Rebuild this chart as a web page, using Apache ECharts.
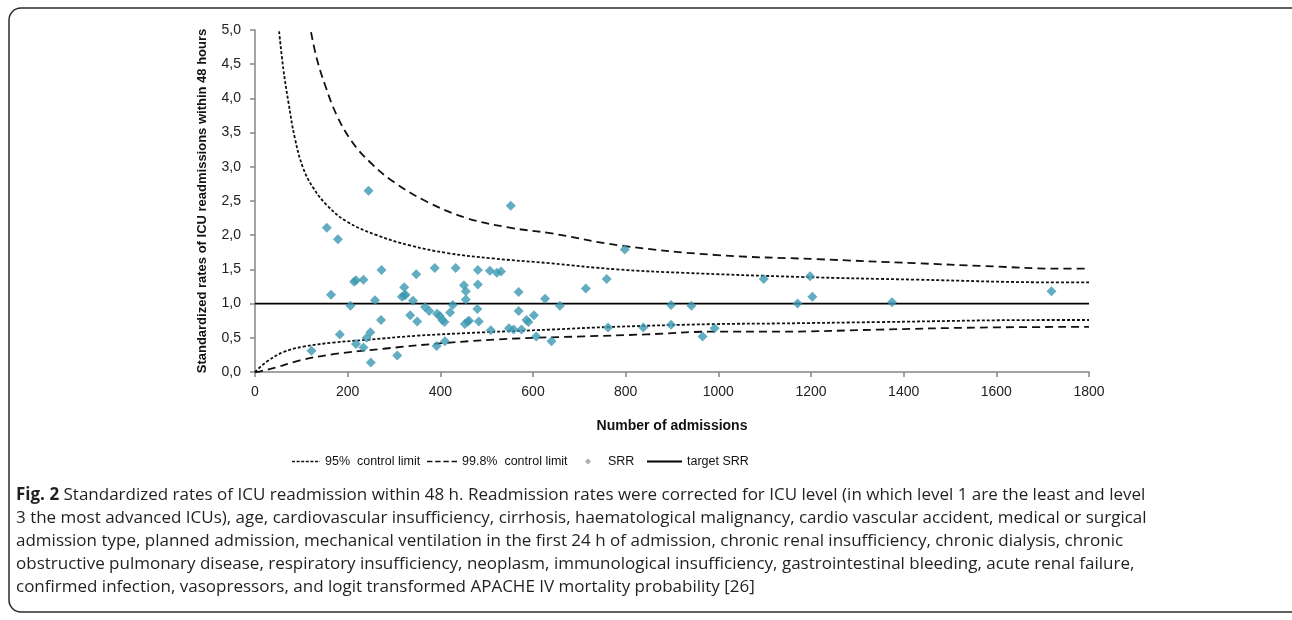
<!DOCTYPE html>
<html>
<head>
<meta charset="utf-8">
<script src="https://cdn.jsdelivr.net/npm/echarts@6/dist/echarts.min.js"></script>
<style>
html,body{margin:0;padding:0;background:#fff;}
#chart{width:1292px;height:620px;}
</style>
</head>
<body>
<div id="chart"></div>
<script>
// SRR points (number of admissions, standardized readmission ratio)
var srrX = [122,155,164,179,183,206,214,218,218,234,234,241,245,249,250,259,272,273,307,317,322,322,325,335,341,348,350,367,376,388,392,393,399,404,409,410,421,427,433,451,455,455,453,459,462,481,481,480,483,507,509,522,531,552,548,558,569,569,575,586,590,602,607,626,640,658,714,759,762,798,838,898,898,942,966,992,1098,1171,1198,1203,1375,1719];
var srrY = [0.31,2.11,1.13,1.94,0.55,0.97,1.32,1.34,0.41,1.35,0.36,0.50,2.65,0.58,0.14,1.05,0.76,1.49,0.24,1.10,1.24,1.12,1.13,0.83,1.04,1.43,0.74,0.95,0.89,1.52,0.38,0.85,0.82,0.76,0.73,0.45,0.87,0.98,1.52,1.27,1.18,1.06,0.70,0.74,0.75,1.49,1.28,0.92,0.74,1.48,0.61,1.45,1.47,2.43,0.64,0.62,1.17,0.89,0.62,0.76,0.73,0.83,0.52,1.07,0.45,0.97,1.22,1.36,0.65,1.79,0.65,0.98,0.69,0.97,0.52,0.64,1.36,1.00,1.40,1.10,1.02,1.18];

// control limits
var up95X = [52,61,72,86,104,126,155,198,263,335,414,514,637,781,925,1176,1428,1741,1800];
var up95Y = [4.98,4.44,3.95,3.42,2.98,2.69,2.44,2.20,2.00,1.85,1.74,1.66,1.59,1.50,1.45,1.39,1.35,1.31,1.31];
var lo95X = [0,25,61,104,169,241,349,493,637,773,989,1133,1349,1709,1800];
var lo95Y = [0,0.15,0.29,0.37,0.43,0.47,0.53,0.58,0.62,0.66,0.70,0.71,0.73,0.76,0.76];
var up998X = [121,133,151,176,209,248,299,371,457,550,637,788,997,1212,1428,1572,1741,1800];
var up998Y = [4.97,4.59,4.20,3.76,3.37,3.07,2.78,2.49,2.25,2.11,2.03,1.85,1.71,1.65,1.59,1.55,1.51,1.51];
var lo998X = [0,11,47,97,169,277,421,565,709,845,989,1133,1349,1565,1800];
var lo998Y = [0,0.01,0.07,0.17,0.26,0.34,0.43,0.49,0.52,0.55,0.59,0.59,0.62,0.65,0.66];
var targetX = [0,1800];
var targetY = [1,1];

var captionLines = [
  "{b|Fig. 2} Standardized rates of ICU readmission within 48 h. Readmission rates were corrected for ICU level (in which level 1 are the least and level",
  "3 the most advanced ICUs), age, cardiovascular insufficiency, cirrhosis, haematological malignancy, cardio vascular accident, medical or surgical",
  "admission type, planned admission, mechanical ventilation in the first 24 h of admission, chronic renal insufficiency, chronic dialysis, chronic",
  "obstructive pulmonary disease, respiratory insufficiency, neoplasm, immunological insufficiency, gastrointestinal bleeding, acute renal failure,",
  "confirmed infection, vasopressors, and logit transformed APACHE IV mortality probability [26]"
];

function zip(xs, ys){ return xs.map(function(x,i){ return [x, ys[i]]; }); }
function dashIcon(dash, gap, total){
  var p = 'path://', x = 0;
  while (x < total) { var w = Math.min(dash, total - x); p += 'M' + x + ',0h' + w + 'v1.6h-' + w + 'z'; x += dash + gap; }
  return p;
}

var chart = echarts.init(document.getElementById('chart'), null, {renderer:'canvas'});
var font = 'Liberation Sans, Arial, sans-serif';
var lineBase = {type:'line', symbol:'none', smooth:0.4, silent:true, z:3, itemStyle:{color:'#111'}};

var graphics = [{
  type:'rect', silent:true, z:0,
  shape:{x:9, y:8, width:1300, height:604, r:12},
  style:{fill:'none', stroke:'#2b2b2b', lineWidth:1.5}
}];
captionLines.forEach(function(t, i){
  graphics.push({
    type:'text', silent:true, left:16, top:487 + i*23,
    style:{
      text:t, fill:'#231f20', font:'17px "Open Sans", sans-serif',
      rich:{b:{fontWeight:'bold', fontFamily:'Open Sans', fontSize:17, fill:'#231f20'}}
    }
  });
});

var legendCommon = {top:450, itemHeight:2, selectedMode:false,
  textStyle:{fontFamily:font, fontSize:12.5, color:'#111'}};

chart.setOption({
  animation:false,
  backgroundColor:'#fff',
  grid:{left:255, right:203, top:30, bottom:248, containLabel:false},
  xAxis:{
    type:'value', min:0, max:1800, interval:200,
    name:'Number of admissions', nameLocation:'middle', nameGap:47,
    nameTextStyle:{fontFamily:font, fontSize:14, fontWeight:'bold', color:'#111'},
    axisLine:{show:true, onZero:false, lineStyle:{color:'#868686', width:1.5}},
    axisTick:{show:true, length:5, lineStyle:{color:'#868686', width:1.5}},
    axisLabel:{fontFamily:font, fontSize:14, color:'#222', margin:13,
      formatter:function(v){ return String(v); }},
    splitLine:{show:false}
  },
  yAxis:{
    type:'value', min:0, max:5, interval:0.5,
    name:'Standardized rates of ICU readmissions within 48 hours', nameLocation:'middle', nameGap:46,
    nameTextStyle:{fontFamily:font, fontSize:13, fontWeight:'bold', color:'#111'},
    axisLine:{show:true, lineStyle:{color:'#868686', width:1.5}},
    axisTick:{show:true, length:5, lineStyle:{color:'#868686', width:1.5}},
    axisLabel:{fontFamily:font, fontSize:14, color:'#222', margin:14,
      formatter:function(v){ return v.toFixed(1).replace('.', ','); }},
    splitLine:{show:false}
  },
  legend:[
    Object.assign({}, legendCommon, {left:287, itemWidth:28, data:[{name:'95%  control limit', icon:dashIcon(3,1.6,28)}]}),
    Object.assign({}, legendCommon, {left:422, itemWidth:30, data:[{name:'99.8%  control limit', icon:dashIcon(5,2.6,30)}]}),
    Object.assign({}, legendCommon, {left:580, itemWidth:6, itemHeight:6,
      data:[{name:'SRR', icon:'diamond', itemStyle:{color:'#9a9a9a'}}],
      textStyle:{fontFamily:font, fontSize:12.5, color:'#111', padding:[0,0,0,12]}}),
    Object.assign({}, legendCommon, {left:642, itemWidth:35, data:[{name:'target SRR', icon:'rect'}]})
  ],
  graphic:graphics,
  series:[
    Object.assign({}, lineBase, {name:'95%  control limit', data:zip(up95X, up95Y), lineStyle:{color:'#111', width:1.8, type:[3,2]}}),
    Object.assign({}, lineBase, {name:'95%  control limit', data:zip(lo95X, lo95Y), lineStyle:{color:'#111', width:1.8, type:[3,2]}}),
    Object.assign({}, lineBase, {name:'99.8%  control limit', data:zip(up998X, up998Y), lineStyle:{color:'#111', width:1.8, type:[8,5]}}),
    Object.assign({}, lineBase, {name:'99.8%  control limit', data:zip(lo998X, lo998Y), lineStyle:{color:'#111', width:1.8, type:[8,5]}}),
    {type:'line', name:'target SRR', symbol:'none', silent:true, z:2, itemStyle:{color:'#000'}, data:zip(targetX, targetY), lineStyle:{color:'#000', width:1.8, type:'solid'}},
    {type:'scatter', name:'SRR', symbol:'diamond', symbolSize:10, z:4, data:zip(srrX, srrY), itemStyle:{color:'#3b98b1'}}
  ]
});
</script>
</body>
</html>
